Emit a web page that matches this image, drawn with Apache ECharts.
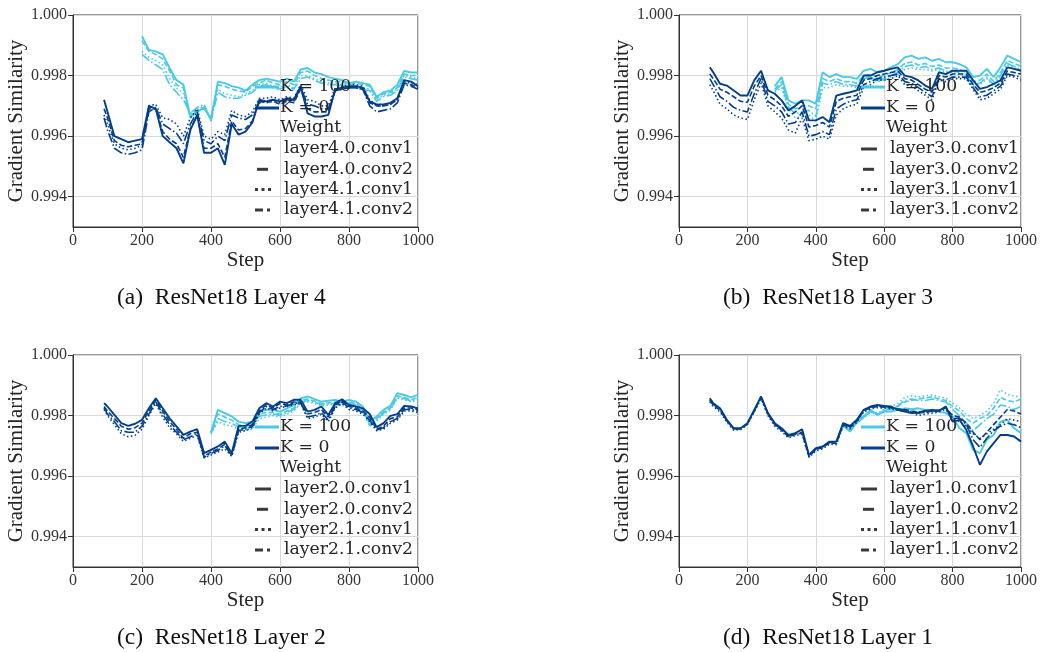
<!DOCTYPE html>
<html>
<head>
<meta charset="utf-8">
<title>Gradient Similarity</title>
<script src="https://cdn.jsdelivr.net/npm/echarts@6/dist/echarts.min.js"></script>
<style>
    html, body { margin: 0; padding: 0; background: #fff; }
    #js_chart { width: 1040px; height: 652px; }
</style>
</head>
<body>
<div id="js_chart"></div>
<script>
// x positions shared by every series
var steps = [90, 100, 120, 140, 160, 180, 200, 220, 240, 260, 280, 300, 320, 340, 360, 380, 400, 420, 440, 460,
    480, 500, 520, 540, 560, 580, 600, 620, 640, 660, 680, 700, 720, 740, 760, 780, 800, 820, 840, 860,
    880, 900, 920, 940, 960, 980, 1000];
var xTicks = [0, 200, 400, 600, 800, 1000];
var yTicks = [0.994, 0.996, 0.998, 1.000];
var kNames = ['K = 100', 'K = 0'];
var captions = ['(a)  ResNet18 Layer 4', '(b)  ResNet18 Layer 3', '(c)  ResNet18 Layer 2', '(d)  ResNet18 Layer 1'];

// (a) layer 4
var a_k100_0c1 = [null, null, null, null, null, null,
    0.99930, 0.99885, 0.99880, 0.99870, 0.99825, 0.99785, 0.99770, 0.99665, 0.99680, 0.99695, 0.99655,
    0.99780, 0.99775, 0.99765, 0.99760, 0.99750, 0.99770, 0.99785, 0.99790, 0.99785, 0.99780,
    0.99790, 0.99780, 0.99820, 0.99825, 0.99810, 0.99805, 0.99795, 0.99790, 0.99785, 0.99775,
    0.99780, 0.99775, 0.99770, 0.99730, 0.99745, 0.99750, 0.99770, 0.99815, 0.99810, 0.99810];
var a_k100_0c2 = [null, null, null, null, null, null,
    0.99915, 0.99880, 0.99870, 0.99855, 0.99815, 0.99770, 0.99760, 0.99660, 0.99685, 0.99690, 0.99660,
    0.99770, 0.99765, 0.99755, 0.99750, 0.99745, 0.99765, 0.99775, 0.99785, 0.99775, 0.99770,
    0.99780, 0.99770, 0.99810, 0.99815, 0.99800, 0.99790, 0.99785, 0.99780, 0.99780, 0.99770,
    0.99775, 0.99770, 0.99765, 0.99725, 0.99740, 0.99745, 0.99760, 0.99805, 0.99800, 0.99800];
var a_k100_1c1 = [null, null, null, null, null, null,
    0.99880, 0.99860, 0.99850, 0.99835, 0.99790, 0.99760, 0.99740, 0.99670, 0.99690, 0.99700, 0.99655,
    0.99755, 0.99740, 0.99735, 0.99730, 0.99740, 0.99750, 0.99770, 0.99775, 0.99765, 0.99760,
    0.99770, 0.99760, 0.99800, 0.99800, 0.99790, 0.99780, 0.99775, 0.99775, 0.99770, 0.99765,
    0.99765, 0.99760, 0.99755, 0.99720, 0.99735, 0.99740, 0.99755, 0.99800, 0.99795, 0.99790];
var a_k100_1c2 = [null, null, null, null, null, null,
    0.99870, 0.99850, 0.99835, 0.99820, 0.99770, 0.99745, 0.99720, 0.99675, 0.99695, 0.99705, 0.99650,
    0.99745, 0.99730, 0.99725, 0.99725, 0.99735, 0.99745, 0.99765, 0.99770, 0.99760, 0.99755,
    0.99765, 0.99755, 0.99790, 0.99795, 0.99785, 0.99775, 0.99770, 0.99770, 0.99765, 0.99760,
    0.99760, 0.99755, 0.99750, 0.99715, 0.99730, 0.99735, 0.99750, 0.99795, 0.99790, 0.99785];
var a_k0_0c1 = [0.99720, 0.99680, 0.99600, 0.99590, 0.99580, 0.99585, 0.99590,
    0.99700, 0.99690, 0.99600, 0.99580, 0.99560, 0.99510, 0.99620, 0.99670, 0.99545, 0.99545,
    0.99560, 0.99505, 0.99640, 0.99605, 0.99615, 0.99645, 0.99720, 0.99715, 0.99720, 0.99715,
    0.99725, 0.99720, 0.99765, 0.99675, 0.99665, 0.99665, 0.99670, 0.99755, 0.99760, 0.99765,
    0.99765, 0.99760, 0.99715, 0.99705, 0.99705, 0.99710, 0.99725, 0.99785, 0.99780, 0.99765];
var a_k0_0c2 = [0.99690, 0.99660, 0.99585, 0.99570, 0.99565, 0.99570, 0.99575,
    0.99690, 0.99690, 0.99615, 0.99590, 0.99575, 0.99530, 0.99625, 0.99665, 0.99560, 0.99560,
    0.99575, 0.99530, 0.99650, 0.99620, 0.99625, 0.99650, 0.99715, 0.99710, 0.99715, 0.99705,
    0.99715, 0.99710, 0.99755, 0.99690, 0.99680, 0.99680, 0.99680, 0.99750, 0.99755, 0.99760,
    0.99760, 0.99755, 0.99710, 0.99700, 0.99700, 0.99705, 0.99720, 0.99775, 0.99770, 0.99760];
var a_k0_1c1 = [0.99670, 0.99640, 0.99575, 0.99560, 0.99555, 0.99560, 0.99570,
    0.99700, 0.99705, 0.99660, 0.99655, 0.99640, 0.99600, 0.99660, 0.99690, 0.99600, 0.99590,
    0.99615, 0.99605, 0.99685, 0.99670, 0.99665, 0.99680, 0.99725, 0.99725, 0.99730, 0.99720,
    0.99730, 0.99725, 0.99770, 0.99720, 0.99715, 0.99700, 0.99700, 0.99760, 0.99765, 0.99770,
    0.99770, 0.99765, 0.99720, 0.99700, 0.99700, 0.99705, 0.99720, 0.99780, 0.99775, 0.99770];
var a_k0_1c2 = [0.99660, 0.99620, 0.99560, 0.99545, 0.99540, 0.99545, 0.99555,
    0.99680, 0.99695, 0.99640, 0.99625, 0.99610, 0.99575, 0.99640, 0.99680, 0.99585, 0.99575,
    0.99600, 0.99585, 0.99670, 0.99660, 0.99655, 0.99670, 0.99710, 0.99715, 0.99720, 0.99710,
    0.99720, 0.99715, 0.99760, 0.99705, 0.99700, 0.99690, 0.99690, 0.99750, 0.99755, 0.99760,
    0.99760, 0.99755, 0.99700, 0.99680, 0.99685, 0.99690, 0.99710, 0.99770, 0.99765, 0.99755];

// (b) layer 3
var b_k100_0c1 = [null, null, null, null, null, null, null, null, null, null,
    0.99765, 0.99795, 0.99718, 0.99707, 0.99718, 0.99718, 0.99707,
    0.99811, 0.99795, 0.99805, 0.99795, 0.99795, 0.99789, 0.99816, 0.99822, 0.99811, 0.99816,
    0.99827, 0.99838, 0.99860, 0.99866, 0.99855, 0.99860, 0.99849, 0.99855, 0.99844, 0.99844,
    0.99838, 0.99827, 0.99795, 0.99800, 0.99822, 0.99795, 0.99827, 0.99866, 0.99855, 0.99844];
var b_k100_0c2 = [null, null, null, null, null, null, null, null, null, null,
    0.99755, 0.99780, 0.99705, 0.99690, 0.99700, 0.99700, 0.99690,
    0.99790, 0.99780, 0.99790, 0.99780, 0.99780, 0.99775, 0.99800, 0.99805, 0.99795, 0.99800,
    0.99810, 0.99820, 0.99840, 0.99845, 0.99835, 0.99840, 0.99830, 0.99835, 0.99825, 0.99825,
    0.99820, 0.99810, 0.99780, 0.99785, 0.99805, 0.99780, 0.99810, 0.99850, 0.99840, 0.99830];
var b_k100_1c1 = [null, null, null, null, null, null, null, null, null, null,
    0.99745, 0.99760, 0.99690, 0.99660, 0.99665, 0.99670, 0.99650,
    0.99760, 0.99760, 0.99770, 0.99765, 0.99765, 0.99760, 0.99785, 0.99790, 0.99780, 0.99785,
    0.99795, 0.99805, 0.99820, 0.99825, 0.99820, 0.99820, 0.99815, 0.99820, 0.99810, 0.99810,
    0.99805, 0.99795, 0.99765, 0.99770, 0.99790, 0.99765, 0.99795, 0.99835, 0.99825, 0.99815];
var b_k100_1c2 = [null, null, null, null, null, null, null, null, null, null,
    0.99750, 0.99770, 0.99695, 0.99675, 0.99680, 0.99685, 0.99665,
    0.99775, 0.99770, 0.99780, 0.99770, 0.99770, 0.99765, 0.99790, 0.99795, 0.99785, 0.99790,
    0.99800, 0.99810, 0.99830, 0.99835, 0.99825, 0.99830, 0.99820, 0.99825, 0.99815, 0.99815,
    0.99810, 0.99800, 0.99770, 0.99775, 0.99795, 0.99770, 0.99800, 0.99840, 0.99830, 0.99820];
var b_k0_0c1 = [0.99827, 0.99811, 0.99773, 0.99767, 0.99751, 0.99734, 0.99734,
    0.99784, 0.99816, 0.99751, 0.99740, 0.99718, 0.99685, 0.99700, 0.99718, 0.99652, 0.99652,
    0.99663, 0.99646, 0.99734, 0.99740, 0.99745, 0.99751, 0.99800, 0.99800, 0.99811, 0.99816,
    0.99822, 0.99827, 0.99800, 0.99795, 0.99784, 0.99767, 0.99756, 0.99811, 0.99805, 0.99816,
    0.99816, 0.99816, 0.99784, 0.99756, 0.99762, 0.99773, 0.99784, 0.99827, 0.99822, 0.99816];
var b_k0_0c2 = [0.99805, 0.99790, 0.99755, 0.99745, 0.99730, 0.99715, 0.99712,
    0.99765, 0.99800, 0.99735, 0.99720, 0.99700, 0.99665, 0.99680, 0.99700, 0.99630, 0.99635,
    0.99645, 0.99630, 0.99715, 0.99725, 0.99730, 0.99735, 0.99785, 0.99790, 0.99800, 0.99805,
    0.99810, 0.99815, 0.99790, 0.99785, 0.99770, 0.99755, 0.99745, 0.99800, 0.99795, 0.99805,
    0.99805, 0.99805, 0.99770, 0.99745, 0.99750, 0.99760, 0.99775, 0.99815, 0.99810, 0.99805];
var b_k0_1c1 = [0.99770, 0.99750, 0.99705, 0.99690, 0.99670, 0.99660, 0.99655,
    0.99720, 0.99775, 0.99700, 0.99680, 0.99660, 0.99620, 0.99610, 0.99660, 0.99585, 0.99590,
    0.99600, 0.99590, 0.99670, 0.99690, 0.99700, 0.99705, 0.99760, 0.99770, 0.99785, 0.99785,
    0.99790, 0.99800, 0.99770, 0.99765, 0.99750, 0.99735, 0.99720, 0.99785, 0.99780, 0.99790,
    0.99790, 0.99790, 0.99755, 0.99720, 0.99725, 0.99740, 0.99755, 0.99800, 0.99795, 0.99785];
var b_k0_1c2 = [0.99790, 0.99770, 0.99730, 0.99715, 0.99695, 0.99685, 0.99680,
    0.99740, 0.99790, 0.99715, 0.99700, 0.99680, 0.99640, 0.99645, 0.99680, 0.99600, 0.99605,
    0.99615, 0.99605, 0.99690, 0.99705, 0.99715, 0.99720, 0.99770, 0.99780, 0.99790, 0.99795,
    0.99800, 0.99805, 0.99780, 0.99775, 0.99760, 0.99745, 0.99730, 0.99790, 0.99785, 0.99795,
    0.99795, 0.99795, 0.99760, 0.99730, 0.99735, 0.99750, 0.99765, 0.99805, 0.99800, 0.99795];

// (c) layer 2
var c_k100_0c1 = [null, null, null, null, null, null, null, null, null, null, null, null, null, null, null, null,
    0.99745,
    0.99819, 0.99808, 0.99797, 0.99780, 0.99775, 0.99780, 0.99813, 0.99819, 0.99819, 0.99813,
    0.99824, 0.99835, 0.99857, 0.99863, 0.99854, 0.99846, 0.99849, 0.99852, 0.99846, 0.99852,
    0.99846, 0.99830, 0.99780, 0.99797, 0.99819, 0.99832, 0.99874, 0.99868, 0.99860, 0.99868];
var c_k100_0c2 = [null, null, null, null, null, null, null, null, null, null, null, null, null, null, null, null,
    0.99745,
    0.99805, 0.99795, 0.99785, 0.99770, 0.99765, 0.99770, 0.99805, 0.99810, 0.99810, 0.99805,
    0.99815, 0.99825, 0.99850, 0.99855, 0.99848, 0.99840, 0.99842, 0.99845, 0.99840, 0.99845,
    0.99840, 0.99822, 0.99772, 0.99790, 0.99812, 0.99825, 0.99865, 0.99860, 0.99852, 0.99860];
var c_k100_1c1 = [null, null, null, null, null, null, null, null, null, null, null, null, null, null, null, null,
    0.99740,
    0.99780, 0.99770, 0.99765, 0.99755, 0.99750, 0.99755, 0.99790, 0.99795, 0.99800, 0.99795,
    0.99805, 0.99815, 0.99840, 0.99845, 0.99840, 0.99832, 0.99835, 0.99838, 0.99832, 0.99838,
    0.99832, 0.99815, 0.99765, 0.99782, 0.99805, 0.99818, 0.99858, 0.99852, 0.99845, 0.99852];
var c_k100_1c2 = [null, null, null, null, null, null, null, null, null, null, null, null, null, null, null, null,
    0.99742,
    0.99790, 0.99780, 0.99775, 0.99762, 0.99758, 0.99762, 0.99798, 0.99802, 0.99805, 0.99800,
    0.99810, 0.99820, 0.99845, 0.99850, 0.99844, 0.99836, 0.99838, 0.99841, 0.99836, 0.99841,
    0.99836, 0.99818, 0.99768, 0.99786, 0.99808, 0.99821, 0.99861, 0.99856, 0.99848, 0.99856];
var c_k0_0c1 = [0.99841, 0.99830, 0.99802, 0.99775, 0.99766, 0.99773, 0.99786,
    0.99824, 0.99857, 0.99824, 0.99791, 0.99764, 0.99736, 0.99747, 0.99755, 0.99676, 0.99687,
    0.99698, 0.99714, 0.99676, 0.99766, 0.99766, 0.99780, 0.99824, 0.99841, 0.99830, 0.99846,
    0.99841, 0.99852, 0.99852, 0.99813, 0.99819, 0.99830, 0.99802, 0.99841, 0.99854, 0.99835,
    0.99830, 0.99824, 0.99805, 0.99762, 0.99775, 0.99799, 0.99805, 0.99832, 0.99830, 0.99824];
var c_k0_0c2 = [0.99830, 0.99815, 0.99790, 0.99765, 0.99755, 0.99760, 0.99775,
    0.99815, 0.99850, 0.99815, 0.99780, 0.99755, 0.99725, 0.99740, 0.99745, 0.99665, 0.99680,
    0.99690, 0.99705, 0.99670, 0.99755, 0.99760, 0.99770, 0.99815, 0.99835, 0.99825, 0.99840,
    0.99835, 0.99845, 0.99845, 0.99805, 0.99810, 0.99820, 0.99795, 0.99835, 0.99850, 0.99830,
    0.99825, 0.99815, 0.99795, 0.99755, 0.99765, 0.99790, 0.99795, 0.99825, 0.99825, 0.99820];
var c_k0_1c1 = [0.99820, 0.99800, 0.99770, 0.99740, 0.99730, 0.99735, 0.99755,
    0.99800, 0.99840, 0.99795, 0.99760, 0.99740, 0.99715, 0.99725, 0.99735, 0.99660, 0.99670,
    0.99680, 0.99690, 0.99665, 0.99745, 0.99750, 0.99760, 0.99805, 0.99825, 0.99815, 0.99825,
    0.99830, 0.99835, 0.99840, 0.99790, 0.99795, 0.99805, 0.99780, 0.99825, 0.99840, 0.99820,
    0.99815, 0.99805, 0.99780, 0.99750, 0.99755, 0.99775, 0.99785, 0.99815, 0.99815, 0.99810];
var c_k0_1c2 = [0.99825, 0.99805, 0.99780, 0.99750, 0.99745, 0.99745, 0.99765,
    0.99805, 0.99845, 0.99805, 0.99770, 0.99745, 0.99720, 0.99730, 0.99740, 0.99662, 0.99675,
    0.99685, 0.99700, 0.99668, 0.99750, 0.99755, 0.99765, 0.99810, 0.99830, 0.99820, 0.99830,
    0.99832, 0.99840, 0.99842, 0.99795, 0.99800, 0.99810, 0.99785, 0.99830, 0.99845, 0.99825,
    0.99820, 0.99810, 0.99785, 0.99752, 0.99760, 0.99780, 0.99790, 0.99820, 0.99820, 0.99815];

// (d) layer 1
var d_k100_0c1 = [null, null, null, null, null, null, null, null, null, null,
    null, null, null, null, null, null, null, null, null, null,
    0.99769, 0.99747,
    0.99780, 0.99797, 0.99819, 0.99802, 0.99813, 0.99813, 0.99819, 0.99824, 0.99821, 0.99824,
    0.99819, 0.99813, 0.99813, 0.99808, 0.99797, 0.99758, 0.99742, 0.99687, 0.99676, 0.99720,
    0.99736, 0.99780, 0.99786, 0.99758, 0.99742];
var d_k100_0c2 = [null, null, null, null, null, null, null, null, null, null,
    null, null, null, null, null, null, null, null, null, null,
    0.99765, 0.99755,
    0.99778, 0.99795, 0.99815, 0.99805, 0.99815, 0.99820, 0.99830, 0.99845, 0.99850, 0.99855,
    0.99858, 0.99862, 0.99855, 0.99850, 0.99830, 0.99815, 0.99790, 0.99775, 0.99790, 0.99800,
    0.99825, 0.99860, 0.99850, 0.99845, 0.99855];
var d_k100_1c1 = [null, null, null, null, null, null, null, null, null, null,
    null, null, null, null, null, null, null, null, null, null,
    0.99762, 0.99752,
    0.99775, 0.99792, 0.99812, 0.99808, 0.99820, 0.99830, 0.99840, 0.99860, 0.99865, 0.99862,
    0.99865, 0.99868, 0.99862, 0.99858, 0.99840, 0.99825, 0.99805, 0.99790, 0.99800, 0.99815,
    0.99840, 0.99885, 0.99870, 0.99865, 0.99860];
var d_k100_1c2 = [null, null, null, null, null, null, null, null, null, null,
    null, null, null, null, null, null, null, null, null, null,
    0.99766, 0.99750,
    0.99776, 0.99794, 0.99813, 0.99804, 0.99816, 0.99822, 0.99832, 0.99850, 0.99855, 0.99850,
    0.99850, 0.99855, 0.99850, 0.99845, 0.99820, 0.99800, 0.99775, 0.99750, 0.99770, 0.99790,
    0.99805, 0.99835, 0.99830, 0.99820, 0.99830];
var d_k0_0c1 = [0.99857, 0.99841, 0.99824, 0.99786, 0.99758, 0.99758, 0.99775,
    0.99819, 0.99863, 0.99808, 0.99775, 0.99758, 0.99736, 0.99742, 0.99755, 0.99670, 0.99692,
    0.99698, 0.99714, 0.99714, 0.99775, 0.99766, 0.99786, 0.99819, 0.99830, 0.99835, 0.99832,
    0.99830, 0.99819, 0.99813, 0.99808, 0.99810, 0.99816, 0.99819, 0.99816, 0.99830, 0.99780,
    0.99786, 0.99753, 0.99698, 0.99637, 0.99681, 0.99709, 0.99736, 0.99736, 0.99731, 0.99714];
var d_k0_0c2 = [0.99850, 0.99835, 0.99818, 0.99782, 0.99756, 0.99756, 0.99772,
    0.99815, 0.99860, 0.99805, 0.99770, 0.99752, 0.99730, 0.99738, 0.99742, 0.99665, 0.99688,
    0.99694, 0.99710, 0.99708, 0.99770, 0.99760, 0.99782, 0.99815, 0.99826, 0.99830, 0.99828,
    0.99825, 0.99822, 0.99820, 0.99815, 0.99812, 0.99810, 0.99815, 0.99818, 0.99825, 0.99800,
    0.99795, 0.99775, 0.99745, 0.99720, 0.99745, 0.99770, 0.99795, 0.99820, 0.99815, 0.99805];
var d_k0_1c1 = [0.99845, 0.99830, 0.99812, 0.99778, 0.99752, 0.99754, 0.99770,
    0.99812, 0.99856, 0.99800, 0.99765, 0.99748, 0.99726, 0.99734, 0.99738, 0.99662, 0.99684,
    0.99690, 0.99706, 0.99704, 0.99766, 0.99756, 0.99778, 0.99812, 0.99822, 0.99826, 0.99825,
    0.99822, 0.99818, 0.99815, 0.99810, 0.99800, 0.99805, 0.99808, 0.99812, 0.99820, 0.99790,
    0.99780, 0.99765, 0.99740, 0.99725, 0.99740, 0.99755, 0.99770, 0.99790, 0.99785, 0.99780];
var d_k0_1c2 = [0.99852, 0.99838, 0.99820, 0.99784, 0.99757, 0.99757, 0.99773,
    0.99816, 0.99861, 0.99806, 0.99772, 0.99755, 0.99733, 0.99740, 0.99745, 0.99668, 0.99690,
    0.99696, 0.99712, 0.99711, 0.99772, 0.99763, 0.99784, 0.99817, 0.99828, 0.99832, 0.99830,
    0.99828, 0.99820, 0.99818, 0.99812, 0.99808, 0.99812, 0.99816, 0.99815, 0.99828, 0.99790,
    0.99792, 0.99770, 0.99720, 0.99695, 0.99725, 0.99750, 0.99765, 0.99775, 0.99770, 0.99760];

var colK100 = '#48cae4';
var colK0 = '#023e8a';
var dashes = ['solid', [5.5, 2.4], [1.5, 2.5], [9.6, 2.4, 1.5, 2.4]];
var markDashes = [null, [11, 10], [3, 3.5], [8, 4, 3, 10]];
var serif = 'Liberation Serif';
var legendFont = 'DejaVu Serif';

var panels = [
    { left: 73, top: 15, layer: 4, k100: [a_k100_0c1, a_k100_0c2, a_k100_1c1, a_k100_1c2], k0: [a_k0_0c1, a_k0_0c2, a_k0_1c1, a_k0_1c2] },
    { left: 679, top: 15, layer: 3, k100: [b_k100_0c1, b_k100_0c2, b_k100_1c1, b_k100_1c2], k0: [b_k0_0c1, b_k0_0c2, b_k0_1c1, b_k0_1c2] },
    { left: 73, top: 355, layer: 2, k100: [c_k100_0c1, c_k100_0c2, c_k100_1c1, c_k100_1c2], k0: [c_k0_0c1, c_k0_0c2, c_k0_1c1, c_k0_1c2] },
    { left: 679, top: 355, layer: 1, k100: [d_k100_0c1, d_k100_0c2, d_k100_1c1, d_k100_1c2], k0: [d_k0_0c1, d_k0_0c2, d_k0_1c1, d_k0_1c2] }
];

var grids = [], xAxes = [], yAxes = [], series = [], graphics = [];

panels.forEach(function(p, i) {
    var weights = ['.0.conv1', '.0.conv2', '.1.conv1', '.1.conv2'].map(function(w) { return 'layer' + p.layer + w; });

    grids.push({
        left: p.left, top: p.top, width: 345, height: 212,
        show: true, borderColor: '#333', borderWidth: 1, backgroundColor: 'transparent'
    });
    xAxes.push({
        type: 'value', gridIndex: i, min: 0, max: 1000, interval: 200,
        name: 'Step', nameLocation: 'middle', nameGap: 22,
        nameTextStyle: { fontFamily: serif, fontSize: 21, color: '#262626' },
        axisLine: { show: true, lineStyle: { color: '#333' } },
        axisTick: { show: true, length: 5, customValues: xTicks, lineStyle: { color: '#333' } },
        axisLabel: {
            customValues: xTicks, fontFamily: serif, fontSize: 16, color: '#333', margin: 6,
            formatter: function(v) { return String(v); }
        },
        splitLine: { show: true, lineStyle: { color: '#d9d9d9' } }
    });
    yAxes.push({
        type: 'value', gridIndex: i, min: 0.993, max: 1.0,
        name: 'Gradient Similarity', nameLocation: 'middle', nameGap: 44,
        nameTextStyle: { fontFamily: serif, fontSize: 21, color: '#262626' },
        axisLine: { show: true, lineStyle: { color: '#333' } },
        axisTick: { show: true, length: 5, customValues: yTicks, lineStyle: { color: '#333' } },
        axisLabel: {
            customValues: yTicks, fontFamily: serif, fontSize: 16, color: '#333', margin: 6,
            formatter: function(v) { return v.toFixed(3); }
        },
        splitLine: { show: true, lineStyle: { color: '#d9d9d9' } }
    });

    //K = 100 first, K = 0 on top
    [[p.k100, colK100, kNames[0]], [p.k0, colK0, kNames[1]]].forEach(function(g) {
        g[0].forEach(function(vals, j) {
            series.push({
                name: g[2] + ' ' + weights[j],
                type: 'line',
                xAxisIndex: i,
                yAxisIndex: i,
                symbol: 'none',
                animation: false,
                lineStyle: { color: g[1], width: j === 0 ? 1.9 : 1.6, type: dashes[j] },
                data: steps.map(function(s, k) { return [s, vals[k]]; })
                    .filter(function(d) { return d[1] !== null; })
            });
        });
    });

    //legend, drawn by hand like the seaborn one
    var lx = p.left + 182, ty = p.top + 72;
    var font = '17.3px "' + legendFont + '"';
    [colK100, colK0].forEach(function(c, j) {
        graphics.push({ type: 'line', shape: { x1: lx, y1: ty + j * 21, x2: lx + 24, y2: ty + j * 21 }, style: { stroke: c, lineWidth: 3 }, z: 100 });
        graphics.push({ type: 'text', x: lx + 25, y: ty + j * 21, style: { text: kNames[j], font: font, fill: '#262626', verticalAlign: 'middle' }, z: 100 });
    });
    graphics.push({ type: 'text', x: lx + 25, y: ty + 41, style: { text: 'Weight', font: font, fill: '#262626', verticalAlign: 'middle' }, z: 100 });
    weights.forEach(function(w, j) {
        var y = ty + 62 + j * 20.3;
        var st = { stroke: '#3a3a3a', lineWidth: 3 };
        if (markDashes[j]) st.lineDash = markDashes[j];
        var x0 = j === 1 ? lx + 2 : lx;
        graphics.push({ type: 'line', shape: { x1: x0, y1: y, x2: lx + 16, y2: y }, style: st, z: 100 });
        graphics.push({ type: 'text', x: lx + 29, y: y, style: { text: w, font: font, fill: '#262626', verticalAlign: 'middle' }, z: 100 });
    });

    graphics.push({ type: 'text', x: p.left + 44, y: p.top + 283, style: { text: captions[i], font: '23.5px "' + serif + '"', fill: '#111', verticalAlign: 'middle' }, z: 100 });
});

var chart = echarts.init(document.getElementById('js_chart'));
chart.setOption({
    backgroundColor: '#fff',
    animation: false,
    grid: grids,
    xAxis: xAxes,
    yAxis: yAxes,
    series: series,
    graphic: graphics
});
window.onresize = function() {
    chart.resize();
};
</script>
</body>
</html>
